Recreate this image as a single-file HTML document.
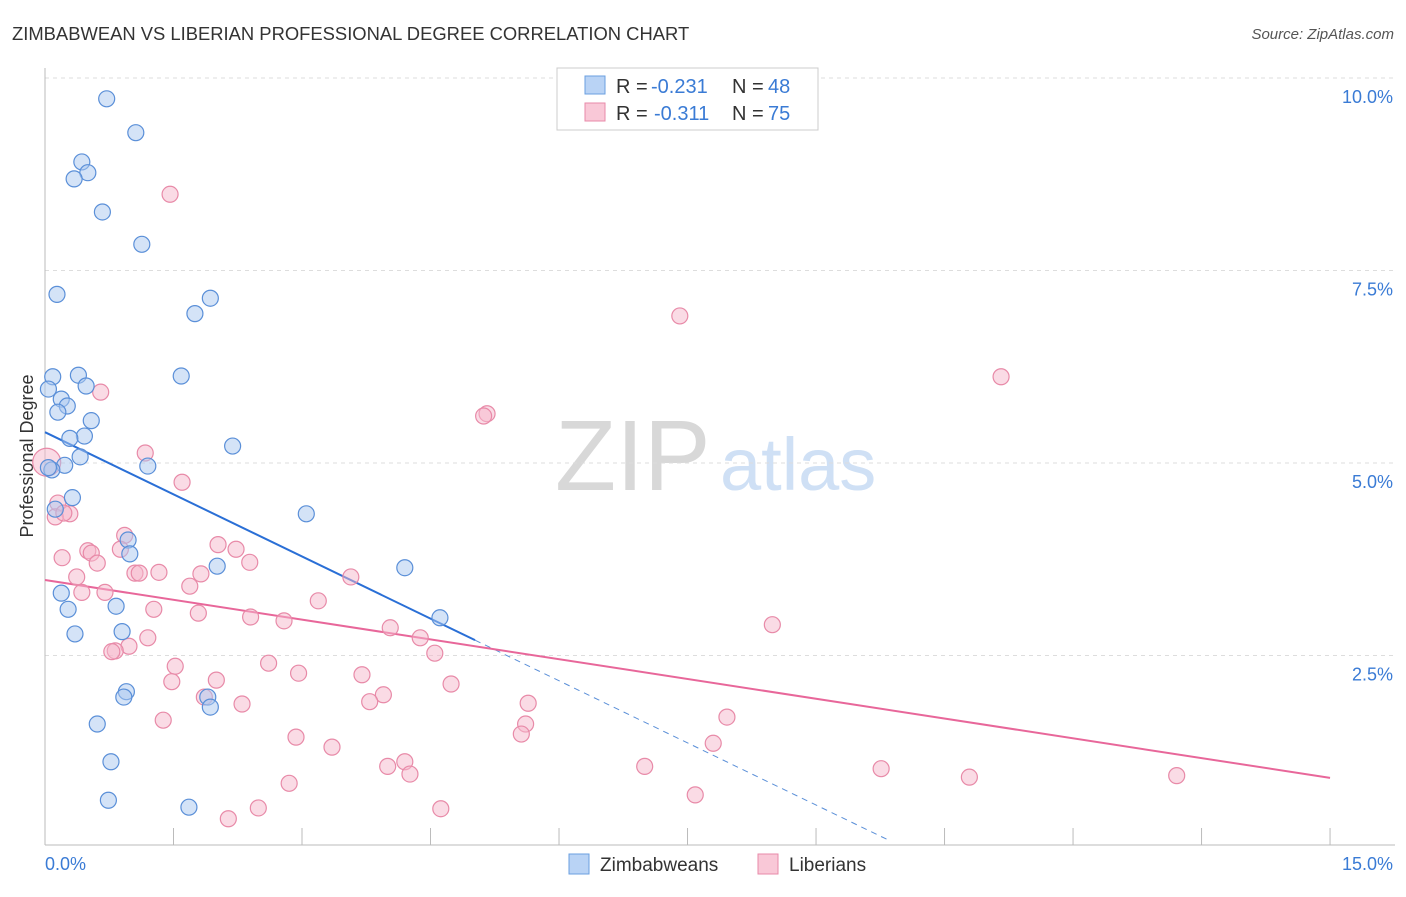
<!DOCTYPE html>
<html><head><meta charset="utf-8">
<style>
body{margin:0;background:#fff;font-family:"Liberation Sans",sans-serif;}
svg text{font-family:"Liberation Sans",sans-serif;}
</style></head>
<body>
<svg id="chart" width="1406" height="892" xmlns="http://www.w3.org/2000/svg">
<text x="12" y="40" font-size="18.4" fill="#333">ZIMBABWEAN VS LIBERIAN PROFESSIONAL DEGREE CORRELATION CHART</text>
<text x="1394" y="39" font-size="15" fill="#555" text-anchor="end" font-style="italic">Source: ZipAtlas.com</text>
<text transform="translate(33,456) rotate(-90)" font-size="18" fill="#333" text-anchor="middle">Professional Degree</text>
<text x="555" y="490" font-size="100" fill="#d8d8d8" font-family="Liberation Serif">ZIP</text>
<text x="720" y="490" font-size="74" fill="#cfe0f5">atlas</text>
<g id="grid"></g>
<g id="axes"></g>
<g id="trends"></g>
<g id="points"></g>
<g>
<rect x="557" y="68" width="261" height="62" fill="#fff" stroke="#ccc"/>
<rect x="585" y="76" width="20" height="18" fill="#b9d3f5" stroke="#6a9fe0"/>
<text x="616" y="93" font-size="20" fill="#333">R =</text>
<text x="651" y="93" font-size="20" fill="#3a7bd5">-0.231</text>
<text x="732" y="93" font-size="20" fill="#333">N =</text>
<text x="768" y="93" font-size="20" fill="#3a7bd5">48</text>
<rect x="585" y="103" width="20" height="18" fill="#f9c8d7" stroke="#e88aa8"/>
<text x="616" y="120" font-size="20" fill="#333">R =</text>
<text x="654" y="120" font-size="20" fill="#3a7bd5">-0.311</text>
<text x="732" y="120" font-size="20" fill="#333">N =</text>
<text x="768" y="120" font-size="20" fill="#3a7bd5">75</text>
</g>
<g>
<rect x="569" y="854" width="20" height="20" fill="#b9d3f5" stroke="#6a9fe0"/>
<text x="600" y="871" font-size="19" fill="#333">Zimbabweans</text>
<rect x="758" y="854" width="20" height="20" fill="#f9c8d7" stroke="#e88aa8"/>
<text x="789" y="871" font-size="19" fill="#333">Liberians</text>
</g>
</svg>
<script>
const blueX=[0.72,1.06,0.43,0.50,0.34,0.67,1.13,0.14,1.93,1.75,1.59,0.09,0.39,0.48,0.04,0.19,0.26,0.15,0.54,0.46,0.29,2.19,0.41,0.23,1.20,0.08,0.32,0.12,3.05,0.97,0.99,2.01,4.20,0.19,0.27,0.83,4.61,0.35,0.90,0.95,0.92,1.90,1.93,0.61,0.77,0.74,1.68,0.04];
const blueY=[9.73,9.29,8.91,8.77,8.69,8.26,7.84,7.19,7.14,6.94,6.13,6.12,6.14,6.00,5.96,5.83,5.74,5.66,5.55,5.35,5.32,5.22,5.08,4.97,4.96,4.91,4.55,4.40,4.34,4.00,3.82,3.66,3.64,3.31,3.10,3.14,2.99,2.78,2.81,2.03,1.96,1.96,1.83,1.61,1.12,0.62,0.53,4.94];
const pinkX=[1.46,7.41,11.16,0.65,5.16,5.12,1.17,1.60,0.02,0.15,0.29,0.12,0.22,0.93,2.02,2.23,0.20,0.50,0.54,0.88,0.61,2.39,0.37,1.05,1.33,1.82,1.10,1.69,0.70,0.43,3.57,3.19,1.27,1.79,2.40,2.79,4.03,4.38,8.49,1.20,0.98,0.82,0.78,4.55,2.61,1.52,2.96,3.70,2.00,1.48,4.74,3.95,1.86,3.79,2.30,5.64,1.38,7.96,5.61,5.56,2.93,7.80,3.35,4.20,4.00,7.00,9.76,4.26,10.79,13.21,2.85,7.59,2.49,4.62,2.14];
const pinkY=[8.49,6.91,6.12,5.92,5.64,5.61,5.13,4.75,5.01,4.48,4.34,4.30,4.35,4.06,3.94,3.88,3.77,3.86,3.83,3.88,3.70,3.71,3.52,3.57,3.58,3.56,3.57,3.40,3.32,3.32,3.52,3.21,3.10,3.05,3.00,2.95,2.86,2.73,2.90,2.73,2.62,2.56,2.55,2.53,2.40,2.36,2.27,2.25,2.18,2.16,2.13,1.99,1.96,1.90,1.87,1.88,1.66,1.70,1.61,1.48,1.44,1.36,1.31,1.12,1.06,1.06,1.03,0.96,0.92,0.94,0.84,0.69,0.52,0.51,0.38];
const yTicks=[2.5,5.0,7.5,10.0];
const yTickLabels=["2.5%","5.0%","7.5%","10.0%"];
const xTicks=[0,1.5,3,4.5,6,7.5,9,10.5,12,13.5,15];
const blueTrend=[5.40,-0.538];
const pinkTrend=[3.48,-0.1713];
const NS="http://www.w3.org/2000/svg";
const X=v=>45+v*85.67, Y=v=>848-v*77;
function mk(tag,attrs,parent){const e=document.createElementNS(NS,tag);for(const k in attrs)e.setAttribute(k,attrs[k]);document.getElementById(parent).appendChild(e);return e;}
yTicks.forEach((t,i)=>{
 const l=mk('line',{x1:45,x2:1395,y1:Y(t),y2:Y(t),stroke:'#ddd','stroke-dasharray':'4,4'},'grid');
 
 
 const tx=mk('text',{x:1393,y:Y(t)+25,'font-size':18,fill:'#3a7bd5','text-anchor':'end'},'grid');
 tx.textContent=yTickLabels[i];
 
 
});
let ax=mk('line',{x1:45,x2:45,y1:68,y2:845,stroke:'#bbb'},'axes');


ax=mk('line',{x1:45,x2:1395,y1:845,y2:845,stroke:'#bbb'},'axes');


xTicks.forEach(t=>{const l=mk('line',{x1:X(t),x2:X(t),y1:828,y2:845,stroke:'#bbb'},'axes');
 
 });
let t0=mk('text',{x:45,y:870,'font-size':18,fill:'#3a7bd5'},'axes');t0.textContent='0.0%';


let t1=mk('text',{x:1393,y:870,'font-size':18,fill:'#3a7bd5','text-anchor':'end'},'axes');t1.textContent='15.0%';


function pts(xs,ys,fill,stroke,name){xs.forEach((x,i)=>{const r=(name==='liberian-point'&&i===8)?14:8;
 const c=mk('circle',{cx:X(x),cy:Y(ys[i]),r:r,fill:fill,'fill-opacity':0.5,stroke:stroke,'stroke-width':1.2},'points');
 
 });}
pts(pinkX,pinkY,'#f5b8cb','#e88aa8','liberian-point');
pts(blueX,blueY,'#a9c8f0','#5a8fd8','zimbabwean-point');
const bEnd=5.02, bDash=9.86;
let tl=mk('line',{x1:X(0),y1:Y(blueTrend[0]),x2:X(bEnd),y2:Y(blueTrend[0]+blueTrend[1]*bEnd),stroke:'#2a6fd6','stroke-width':2},'trends');


tl=mk('line',{x1:X(bEnd),y1:Y(blueTrend[0]+blueTrend[1]*bEnd),x2:X(bDash),y2:Y(blueTrend[0]+blueTrend[1]*bDash),stroke:'#5a8fd8','stroke-width':1,'stroke-dasharray':'6,5'},'trends');


tl=mk('line',{x1:X(0),y1:Y(pinkTrend[0]),x2:X(15),y2:Y(pinkTrend[0]+pinkTrend[1]*15),stroke:'#e8679a','stroke-width':2},'trends');


</script>
</body></html>
